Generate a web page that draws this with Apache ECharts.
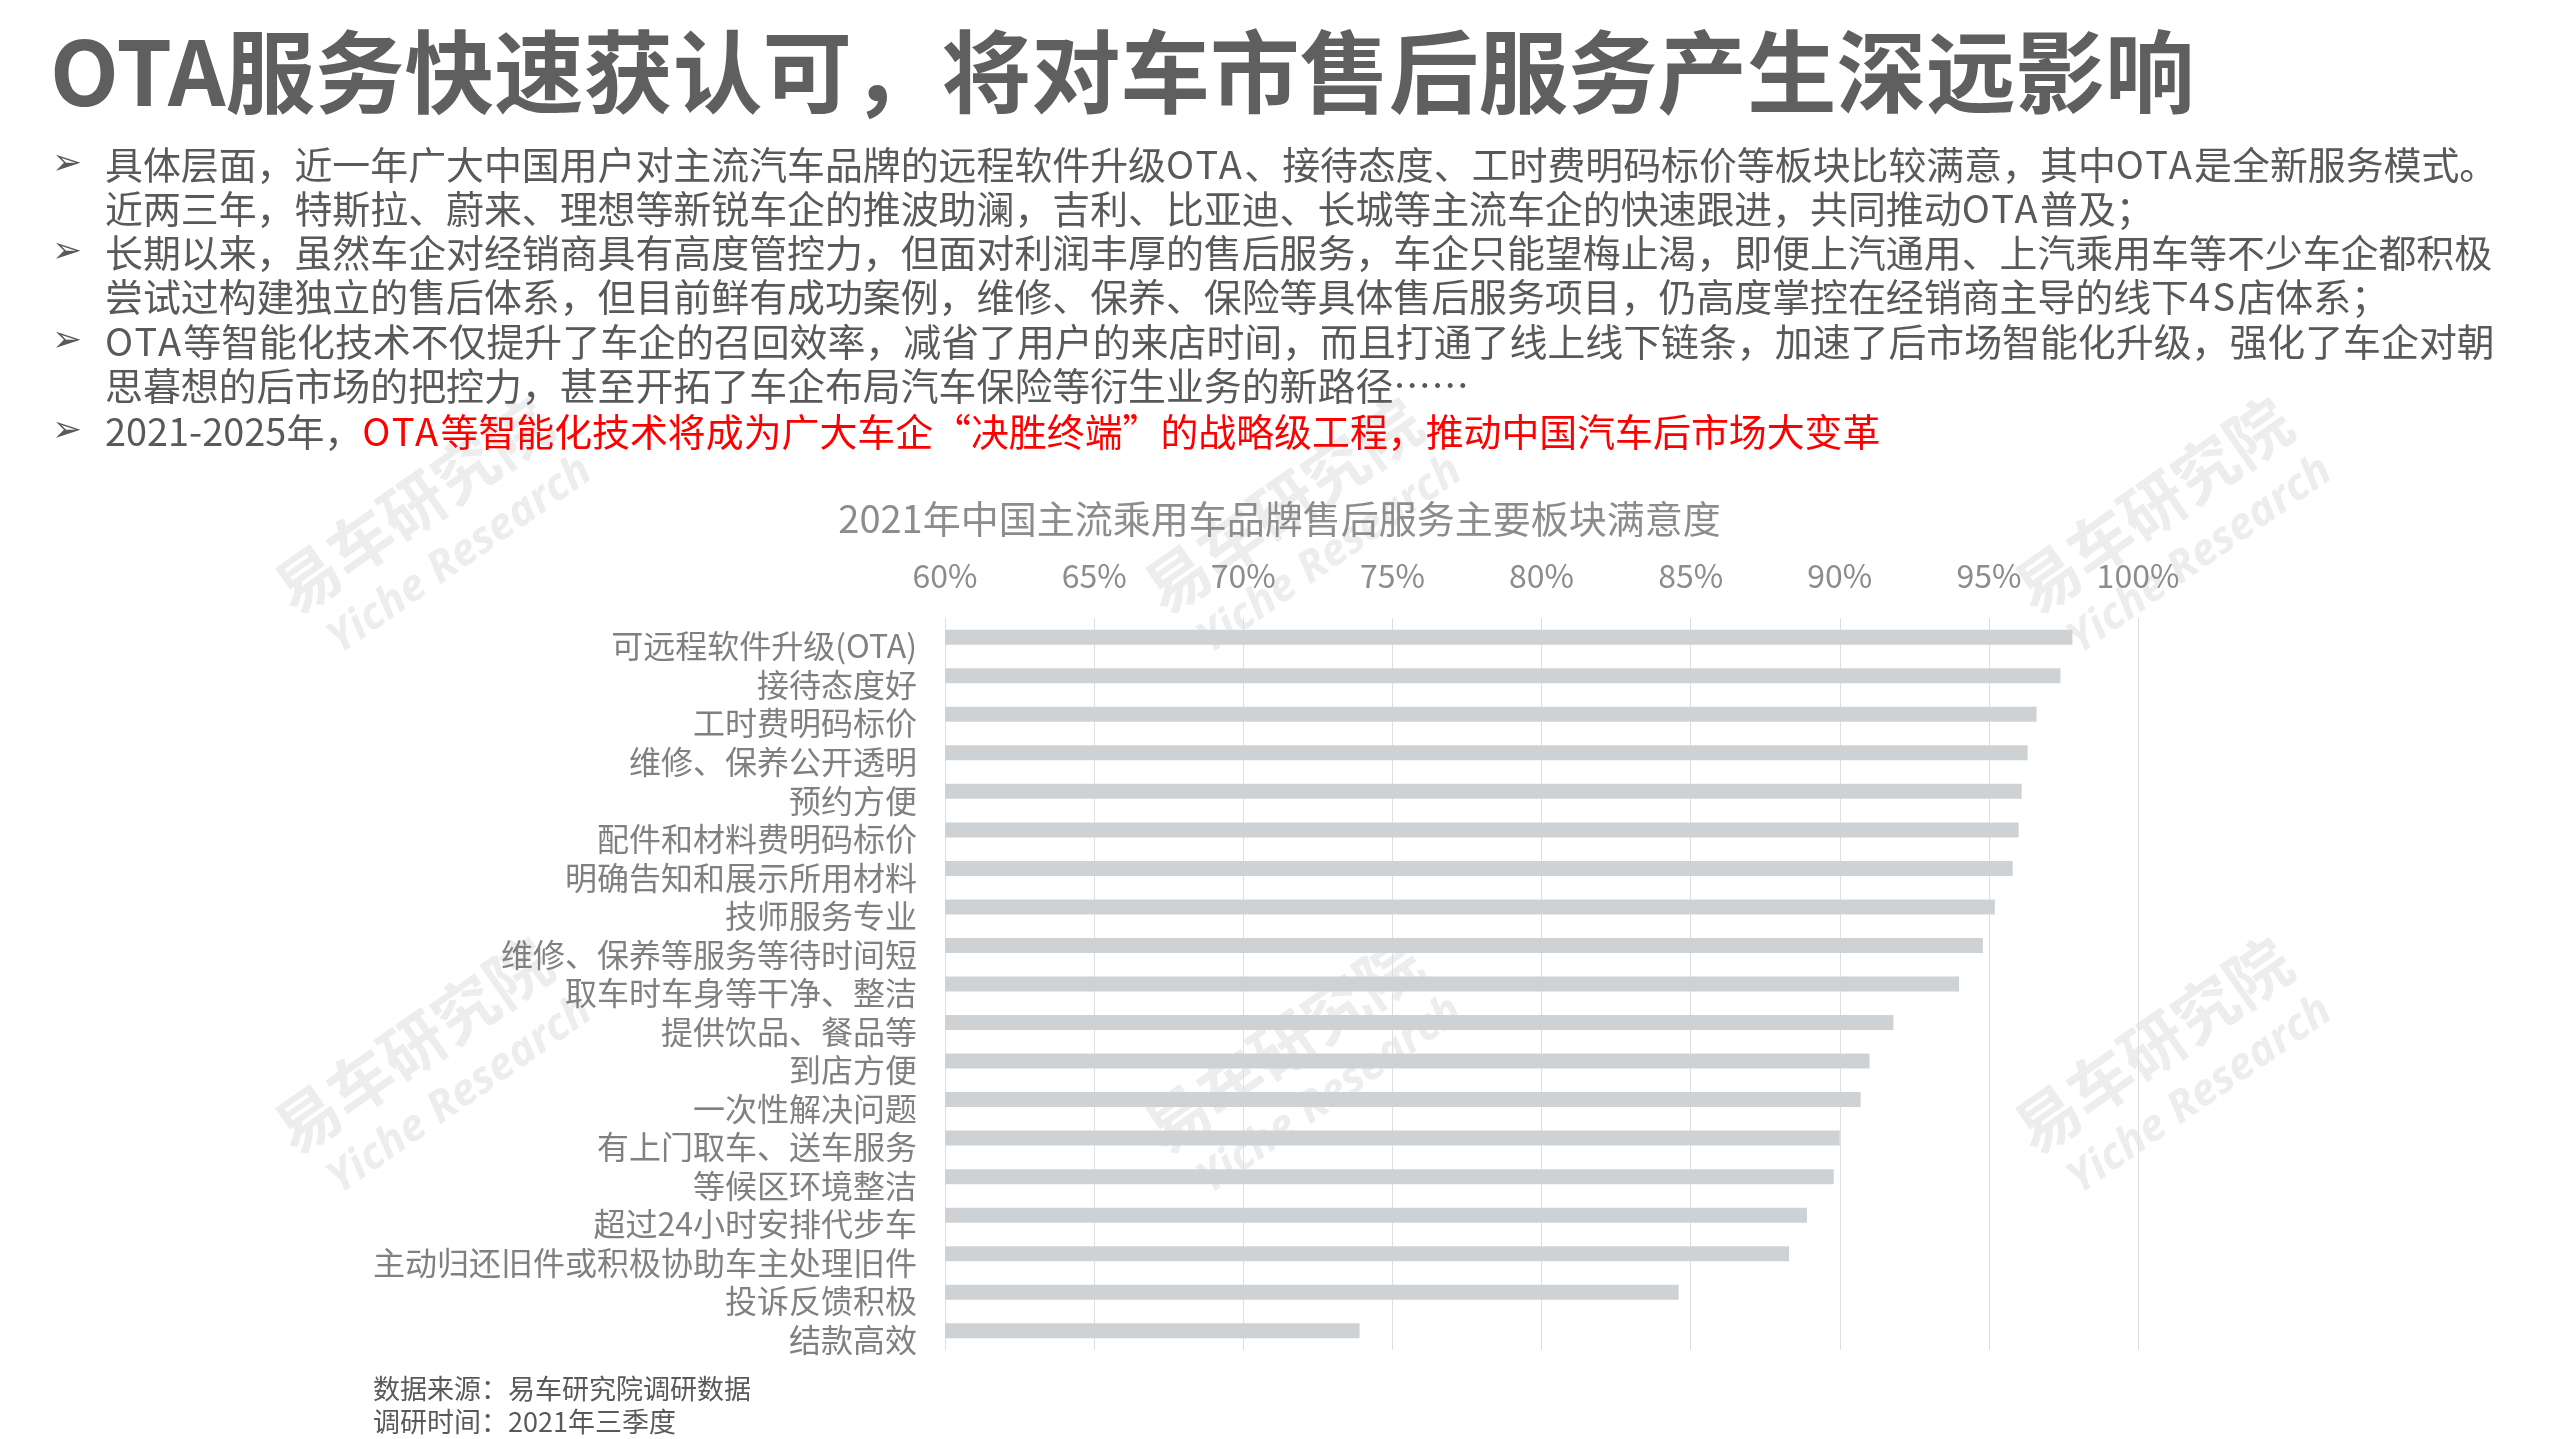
<!DOCTYPE html>
<html>
<head>
<meta charset="utf-8">
<script src="https://cdn.jsdelivr.net/npm/echarts@6/dist/echarts.min.js"></script>
<style>
  html, body { margin: 0; padding: 0; background: #fff; }
  #wrap { position: relative; width: 2559px; height: 1439px; overflow: hidden; }
  #chart { position: absolute; left: 0; top: 0; width: 2559px; height: 1439px; }
  .t { position: absolute; white-space: nowrap; font-family: "Noto Sans CJK SC", "Noto Sans", sans-serif; color: #595959; }
  #title { left: 50px; top: 22px; font-size: 89.5px; line-height: 90px; font-weight: 700; color: #5f5f5f; }
  .ln { left: 105px; font-size: 37.9px; line-height: 44px; }
  .lat { letter-spacing: 2.4px; }
  .ar { left: 52px; font-size: 36px; line-height: 44px; font-family: "DejaVu Sans", sans-serif; color: #595959; }
  .red { color: #ff0000; }
  .fn { left: 373px; font-size: 27px; line-height: 33px; color: #595959; }
</style>
</head>
<body>
<div id="wrap">
  <div id="chart"></div>
  <div class="t" id="title">OTA服务快速获认可，将对车市售后服务产生深远影响</div>

  <div class="t ar" style="top:140px">➢</div>
  <div class="t ln" style="top:141px">具体层面，近一年广大中国用户对主流汽车品牌的远程软件升级<span class="lat">OTA</span>、接待态度、工时费明码标价等板块比较满意，其中<span class="lat">OTA</span>是全新服务模式。</div>
  <div class="t ln" style="top:185px">近两三年，特斯拉、蔚来、理想等新锐车企的推波助澜，吉利、比亚迪、长城等主流车企的快速跟进，共同推动<span class="lat">OTA</span>普及；</div>
  <div class="t ar" style="top:228px">➢</div>
  <div class="t ln" style="top:229px">长期以来，虽然车企对经销商具有高度管控力，但面对利润丰厚的售后服务，车企只能望梅止渴，即便上汽通用、上汽乘用车等不少车企都积极</div>
  <div class="t ln" style="top:273px">尝试过构建独立的售后体系，但目前鲜有成功案例，维修、保养、保险等具体售后服务项目，仍高度掌控在经销商主导的线下<span class="lat">4S</span>店体系；</div>
  <div class="t ar" style="top:317px">➢</div>
  <div class="t ln" style="top:318px"><span class="lat">OTA</span>等智能化技术不仅提升了车企的召回效率，减省了用户的来店时间，而且打通了线上线下链条，加速了后市场智能化升级，强化了车企对朝</div>
  <div class="t ln" style="top:362px">思暮想的后市场的把控力，甚至开拓了车企布局汽车保险等衍生业务的新路径……</div>
  <div class="t ar" style="top:407px">➢</div>
  <div class="t ln" style="top:408px">2021-2025年，<span class="red"><span class="lat">OTA</span>等智能化技术将成为广大车企“决胜终端”的战略级工程，推动中国汽车后市场大变革</span></div>

  <div class="t fn" style="top:1371px">数据来源：易车研究院调研数据</div>
  <div class="t fn" style="top:1404px">调研时间：2021年三季度</div>
</div>
<script>
// ---- data ----
var chartTitle = '2021年中国主流乘用车品牌售后服务主要板块满意度';
var categories = [
  '可远程软件升级(OTA)',
  '接待态度好',
  '工时费明码标价',
  '维修、保养公开透明',
  '预约方便',
  '配件和材料费明码标价',
  '明确告知和展示所用材料',
  '技师服务专业',
  '维修、保养等服务等待时间短',
  '取车时车身等干净、整洁',
  '提供饮品、餐品等',
  '到店方便',
  '一次性解决问题',
  '有上门取车、送车服务',
  '等候区环境整洁',
  '超过24小时安排代步车',
  '主动归还旧件或积极协助车主处理旧件',
  '投诉反馈积极',
  '结款高效'
];
var satisfaction = [97.8, 97.4, 96.6, 96.3, 96.1, 96.0, 95.8, 95.2, 94.8, 94.0,
                    91.8, 91.0, 90.7, 90.0, 89.8, 88.9, 88.3, 84.6, 73.9];
var axisMin = 60, axisMax = 100, axisStep = 5;
var watermarkMain = '易车研究院';
var watermarkSub = 'Yiche Research';

// ---- chart ----
var chart = echarts.init(document.getElementById('chart'), null, { renderer: 'canvas' });
var CJK = '"Noto Sans CJK SC", "Noto Sans", sans-serif';

var wmPos = [[430, 530], [1300, 530], [2170, 530], [430, 1070], [1300, 1070], [2170, 1070]];
var graphics = wmPos.map(function (p) {
  return {
    type: 'group',
    x: p[0], y: p[1],
    rotation: 0.61,
    z: 100,
    silent: true,
    children: [
      { type: 'text', x: 0, y: -30, style: { text: watermarkMain, font: 'bold 64px ' + CJK, fill: '#e4e4e4', opacity: 0.65, textAlign: 'center', textVerticalAlign: 'middle' } },
      { type: 'text', x: 10, y: 38, style: { text: watermarkSub, font: 'italic bold 44px "Open Sans", sans-serif', fill: '#e4e4e4', opacity: 0.65, textAlign: 'center', textVerticalAlign: 'middle' } }
    ]
  };
});

chart.setOption({
  backgroundColor: 'transparent',
  animation: false,
  title: {
    text: chartTitle,
    left: 'center',
    top: 495,
    textStyle: { fontFamily: CJK, fontSize: 38, fontWeight: 'normal', color: '#8c8c8c' }
  },
  grid: { left: 945, right: 421, top: 618, bottom: 89, containLabel: false },
  xAxis: {
    type: 'value',
    position: 'top',
    min: axisMin, max: axisMax, interval: axisStep,
    axisLine: { show: false },
    axisTick: { show: false },
    axisLabel: { formatter: '{value}%', fontFamily: CJK, fontSize: 32, color: '#8c8c8c', margin: 26 },
    splitLine: { show: true, lineStyle: { color: '#dedede', width: 1 } }
  },
  yAxis: {
    type: 'category',
    inverse: true,
    data: categories,
    axisLine: { show: true, lineStyle: { color: '#dedede', width: 1 } },
    axisTick: { show: false },
    axisLabel: { interval: 0, fontFamily: CJK, fontSize: 32, color: '#808080', margin: 28, verticalAlign: 'top', lineHeight: 18 }
  },
  series: [{
    type: 'bar',
    data: satisfaction,
    barWidth: 15,
    itemStyle: { color: '#cfd2d5' },
    silent: true
  }],
  graphic: graphics
});
</script>
</body>
</html>
